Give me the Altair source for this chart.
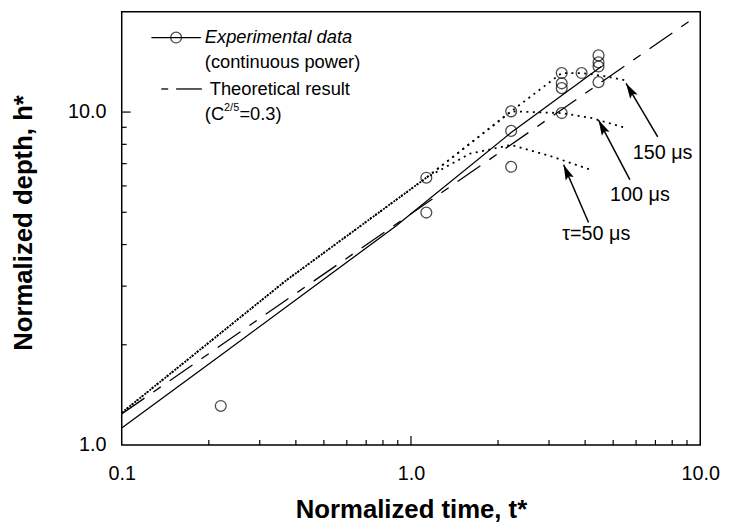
import math
import altair as alt
import pandas as pd

# ---------------- values ----------------
# Experimental data (continuous power)
exp_t = [0.22, 1.13, 1.13, 2.22, 2.22, 2.22, 3.32, 3.32, 3.32, 3.32, 3.89, 4.45, 4.45, 4.45, 4.45]
exp_h = [1.31, 6.35, 4.99, 10.05, 8.78, 6.85, 13.1, 12.2, 11.8, 9.93, 13.1, 14.8, 14.1, 13.7, 12.3]

# solid curve through experimental data
fit_t = [0.1, 0.22, 0.885, 2.22, 4.55]
fit_h = [1.125, 1.86, 4.54, 8.68, 13.7]

# theoretical result (C^2/5 = 0.3), long-dashed
theory_t = [0.1, 9.3]
theory_h = [1.24, 18.9]

# pulsed results (dotted)
p50_t = [0.1, 0.37, 1.13, 1.6, 2.22, 3.0, 4.2]
p50_h = [1.25, 3.12, 6.35, 7.5, 7.97, 7.4, 6.7]
p100_t = [0.1, 0.37, 1.13, 2.22, 3.32, 4.2, 5.54]
p100_h = [1.25, 3.12, 6.35, 10.05, 9.93, 9.6, 8.96]
p150_t = [0.1, 0.37, 1.13, 2.22, 3.32, 3.89, 4.6, 5.54]
p150_h = [1.25, 3.12, 6.35, 10.05, 13.1, 13.1, 12.85, 12.45]

# annotations
ann_text = ["150 μs", "100 μs", "τ=50 μs"]
ann_t = [7.41, 6.19, 4.37]
ann_h = [7.55, 5.65, 4.29]
arrow_tail_t = [7.13, 5.71, 4.11]
arrow_tail_h = [8.42, 6.27, 4.66]
arrow_tip_t = [5.54, 4.45, 3.37]
arrow_tip_h = [12.2, 9.46, 6.95]

# axes
x_labels = [0.1, 1.0, 10.0]
y_labels = [1.0, 10.0]
x_minor = [0.2, 0.3, 0.4, 0.5, 0.6, 0.7, 0.8, 0.9, 2, 3, 4, 5, 6, 7, 8, 9]
x_major = [1.0]
y_minor = [2, 3, 4, 5, 6, 7, 8, 9]
y_major = [10.0]

# ---------------- layout ----------------
FONT = "Liberation Sans"
W, H = 585, 438
XDOM = [0.1, 10]
YDOM = [1, 20]

xs = alt.Scale(type="log", domain=XDOM, nice=False)
ys = alt.Scale(type="log", domain=YDOM, nice=False)

X = alt.X("t:Q", scale=xs, axis=alt.Axis(
    values=x_labels, format=".1f", ticks=False, domain=False, grid=False,
    labelFlush=False, labelOverlap=False, labelFontSize=20, labelFont=FONT,
    labelColor="black", labelPadding=19,
    title="Normalized time, t*", titleFont=FONT, titleFontSize=26,
    titleFontWeight="bold", titleColor="black", titleY=65,
    titleBaseline="middle"))
Y = alt.Y("h:Q", scale=ys, axis=alt.Axis(
    values=y_labels, format=".1f", ticks=False, domain=False, grid=False,
    labelFlush=False, labelOverlap=False, labelFontSize=20, labelFont=FONT,
    labelColor="black", labelPadding=16,
    title="Normalized depth, h*", titleFont=FONT, titleFontSize=26,
    titleFontWeight="bold", titleColor="black", titleAngle=270,
    titleX=-99, titleY=H / 2 - 6, titleAlign="center", titleBaseline="middle"))

exp_df = pd.DataFrame({"t": exp_t, "h": exp_h})
fit_df = pd.DataFrame({"t": fit_t, "h": fit_h})
theory_df = pd.DataFrame({"t": theory_t, "h": theory_h})


def to_px(t, h):
    x = W * (math.log10(t) - math.log10(XDOM[0])) / (math.log10(XDOM[1]) - math.log10(XDOM[0]))
    y = H * (1 - (math.log10(h) - math.log10(YDOM[0])) / (math.log10(YDOM[1]) - math.log10(YDOM[0])))
    return x, y


angles = []
for a, b, c, d in zip(arrow_tail_t, arrow_tail_h, arrow_tip_t, arrow_tip_h):
    x0, y0 = to_px(a, b)
    x1, y1 = to_px(c, d)
    angles.append(math.degrees(math.atan2(x1 - x0, -(y1 - y0))) % 360)

arrow_df = pd.DataFrame({"t": arrow_tail_t, "h": arrow_tail_h,
                         "t2": arrow_tip_t, "h2": arrow_tip_h})
head_df = pd.DataFrame({"t": arrow_tip_t, "h": arrow_tip_h, "ang": angles})
ann_df = pd.DataFrame({"t": ann_t, "h": ann_h, "label": ann_text})

solid = alt.Chart(fit_df).mark_line(color="black", strokeWidth=1.3).encode(x=X, y=Y)
theory = alt.Chart(theory_df).mark_line(color="black", strokeWidth=1.3,
                                        strokeDash=[28, 11, 9, 11]).encode(x=X, y=Y)


def pulse(tt, hh, offset):
    df = pd.DataFrame({"t": tt, "h": hh, "ord": list(range(len(tt)))})
    return alt.Chart(df).mark_line(color="black", strokeWidth=1.8,
                                   strokeDash=[2, 4.5],
                                   strokeDashOffset=offset).encode(
        x=X, y=Y, order="ord:Q")


pulses = [pulse(p50_t, p50_h, 3), pulse(p100_t, p100_h, 0), pulse(p150_t, p150_h, 0)]

points = alt.Chart(exp_df).mark_point(shape="circle", size=120, color="black",
                                      strokeWidth=1.3, filled=False).encode(x=X, y=Y)
shafts = alt.Chart(arrow_df).mark_rule(color="black", strokeWidth=1.5).encode(
    x=X, y=Y, x2="t2:Q", y2="h2:Q")
heads = alt.Chart(head_df).mark_point(
    shape="M0,0 L0.45,1.6 L0,1.3 L-0.45,1.6 Z", size=380, filled=True,
    color="black", opacity=1).encode(x=X, y=Y, angle=alt.Angle("ang:Q", scale=None))
anns = alt.Chart(ann_df).mark_text(font=FONT, fontSize=20, color="black",
                                   align="center", baseline="middle").encode(
    x=X, y=Y, text="label:N")

xticks = alt.Chart(pd.DataFrame({"t": x_minor})).mark_rule(
    color="black", strokeWidth=1.2).encode(x=X, y=alt.value(H), y2=alt.YValue(H - 5))
xticks_major = alt.Chart(pd.DataFrame({"t": x_major})).mark_rule(
    color="black", strokeWidth=1.2).encode(x=X, y=alt.value(H), y2=alt.YValue(H - 9))
yticks = alt.Chart(pd.DataFrame({"h": y_minor})).mark_rule(
    color="black", strokeWidth=1.2).encode(y=Y, x=alt.value(0), x2=alt.XValue(5))
yticks_major = alt.Chart(pd.DataFrame({"h": y_major})).mark_rule(
    color="black", strokeWidth=1.2).encode(y=Y, x=alt.value(0), x2=alt.XValue(9))

# ---------------- legend (drawn by hand) ----------------
one = pd.DataFrame({"a": [0]})
leg_line1 = alt.Chart(one).mark_rule(color="black", strokeWidth=1.3).encode(
    x=alt.value(30), x2=alt.XValue(80), y=alt.value(26))
leg_circle = alt.Chart(one).mark_point(shape="circle", size=120, color="black",
                                       strokeWidth=1.3, filled=False).encode(
    x=alt.value(55), y=alt.value(26))
leg_dash1 = alt.Chart(one).mark_rule(color="black", strokeWidth=1.3).encode(
    x=alt.value(40), x2=alt.XValue(47), y=alt.value(78))
leg_dash2 = alt.Chart(one).mark_rule(color="black", strokeWidth=1.3).encode(
    x=alt.value(55), x2=alt.XValue(81), y=alt.value(78))


def txt(s, x, y, size=18.5, style="normal", baseline="middle"):
    return alt.Chart(one).mark_text(text=s, font=FONT, fontSize=size, fontStyle=style,
                                    color="black", align="left",
                                    baseline=baseline).encode(
        x=alt.value(x), y=alt.value(y))


leg_texts = [
    txt("Experimental data", 84, 26, style="italic"),
    txt("(continuous power)", 84, 51),
    txt("Theoretical result", 89, 78),
    txt("(C", 84, 103),
    txt("2/5", 103.5, 97, size=11),
    txt("=0.3)", 119, 103),
]

chart = alt.layer(
    theory, *pulses, solid, points, shafts, heads, anns,
    xticks, xticks_major, yticks, yticks_major,
    leg_line1, leg_circle, leg_dash1, leg_dash2, *leg_texts
).properties(
    width=W, height=H,
    padding={"left": 115, "top": 1, "right": 21, "bottom": 77},
    autosize=alt.AutoSizeParams(type="none"),
    background="white",
).configure_view(stroke="black", strokeWidth=1.5)

chart.save("out.html", embed_options={"renderer": "svg", "actions": False})
